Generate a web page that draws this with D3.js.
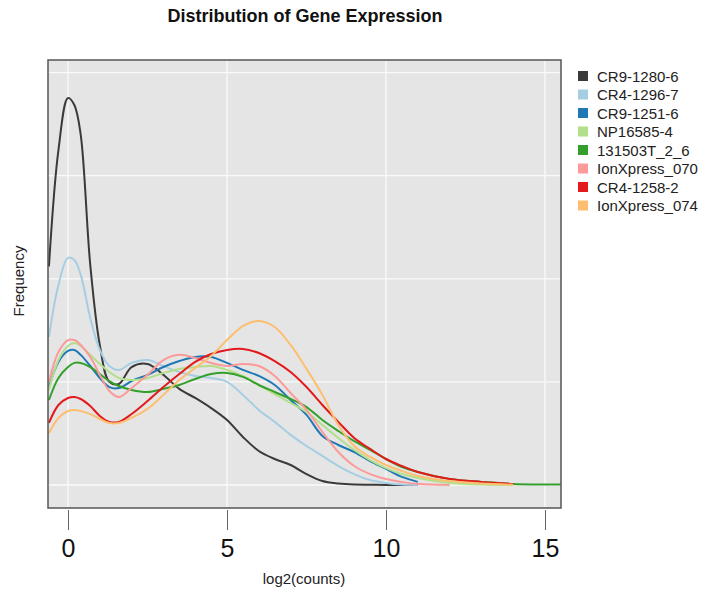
<!DOCTYPE html>
<html>
<head>
<meta charset="utf-8">
<script src="https://cdn.jsdelivr.net/npm/d3@7/dist/d3.min.js"></script>
<style>
  body { margin: 0; background: #fff; }
  text { font-family: "Liberation Sans", Arial, sans-serif; }
</style>
</head>
<body>
<svg width="701" height="594"></svg>
<script>
// log2(counts) sample points shared by all series
var xs = [-0.6, -0.3, 0, 0.2, 0.4, 0.7, 1, 1.3, 1.6, 2, 2.5, 3, 3.5, 4, 4.5, 5, 5.5, 6,
          6.5, 7, 7.5, 8, 8.5, 9, 9.5, 10, 10.5, 11, 12, 13, 14, 15.5];

// density values (series end where the curve ends)
var cr9_1280_6 = [0.1060, 0.1625, 0.1877, 0.1843, 0.1698, 0.1067, 0.0679, 0.0500, 0.0490, 0.0572,
  0.0587, 0.0534, 0.0466, 0.0422, 0.0373, 0.0315, 0.0233, 0.0165, 0.0126, 0.0097, 0.0053, 0.0019,
  0.0007, 0.0002, 0.0001, 0, 0, 0];
var cr4_1296_7 = [0.0718, 0.0970, 0.1101, 0.1091, 0.1019, 0.0810, 0.0655, 0.0577, 0.0558, 0.0592,
  0.0606, 0.0577, 0.0548, 0.0529, 0.0519, 0.0500, 0.0437, 0.0364, 0.0306, 0.0243, 0.0189, 0.0141,
  0.0092, 0.0053, 0.0024, 0.0010, 0.0002, 0];
var cr9_1251_6 = [0.0475, 0.0597, 0.0650, 0.0655, 0.0631, 0.0577, 0.0519, 0.0475, 0.0470, 0.0504,
  0.0534, 0.0572, 0.0601, 0.0621, 0.0621, 0.0592, 0.0558, 0.0529, 0.0485, 0.0412, 0.0340, 0.0238,
  0.0194, 0.0160, 0.0116, 0.0078, 0.0039, 0.0015];
var np16585_4 = [0.0461, 0.0606, 0.0674, 0.0689, 0.0674, 0.0631, 0.0587, 0.0548, 0.0519, 0.0509,
  0.0519, 0.0543, 0.0563, 0.0572, 0.0577, 0.0558, 0.0529, 0.0485, 0.0441, 0.0398, 0.0354, 0.0291,
  0.0228, 0.0170, 0.0121, 0.0082, 0.0053, 0.0034, 0.0010, 0.0002, 0];
var s131503T_2_6 = [0.0412, 0.0519, 0.0572, 0.0592, 0.0592, 0.0572, 0.0538, 0.0504, 0.0480, 0.0461,
  0.0451, 0.0466, 0.0485, 0.0514, 0.0538, 0.0543, 0.0524, 0.0485, 0.0451, 0.0417, 0.0378, 0.0315,
  0.0262, 0.0213, 0.0170, 0.0126, 0.0087, 0.0063, 0.0029, 0.0015, 0.0005, 0.0002];
var ionxpress_070 = [0.0500, 0.0645, 0.0703, 0.0703, 0.0679, 0.0621, 0.0534, 0.0456, 0.0427, 0.0470,
  0.0534, 0.0606, 0.0631, 0.0616, 0.0592, 0.0577, 0.0587, 0.0577, 0.0529, 0.0446, 0.0364, 0.0257,
  0.0160, 0.0092, 0.0053, 0.0029, 0.0015, 0.0005, 0];
var cr4_1258_2 = [0.0301, 0.0388, 0.0422, 0.0427, 0.0417, 0.0383, 0.0335, 0.0306, 0.0306, 0.0344,
  0.0407, 0.0475, 0.0538, 0.0597, 0.0635, 0.0655, 0.0660, 0.0640, 0.0601, 0.0548, 0.0475, 0.0388,
  0.0306, 0.0228, 0.0175, 0.0126, 0.0092, 0.0063, 0.0029, 0.0015, 0.0005];
var ionxpress_074 = [0.0252, 0.0325, 0.0359, 0.0364, 0.0359, 0.0344, 0.0320, 0.0301, 0.0301, 0.0325,
  0.0369, 0.0437, 0.0509, 0.0567, 0.0626, 0.0703, 0.0771, 0.0795, 0.0766, 0.0679, 0.0563, 0.0437,
  0.0291, 0.0189, 0.0136, 0.0097, 0.0068, 0.0044, 0.0019, 0.0007, 0.0001];

var sampleNames = ["CR9-1280-6", "CR4-1296-7", "CR9-1251-6", "NP16585-4", "131503T_2_6",
                   "IonXpress_070", "CR4-1258-2", "IonXpress_074"];
var sampleValues = [cr9_1280_6, cr4_1296_7, cr9_1251_6, np16585_4, s131503T_2_6,
                    ionxpress_070, cr4_1258_2, ionxpress_074];
var sampleColors = ["#3a3a3a", "#a6cee3", "#1f78b4", "#b2df8a", "#33a02c", "#fb9a99", "#e31a1c", "#fdbf6f"];

var xTicks = [0, 5, 10, 15];
var yGrid = [0, 0.05, 0.10, 0.15, 0.20];

var panel = { left: 48, top: 60, right: 561, bottom: 508 };

var svg = d3.select("svg");

var x = d3.scaleLinear().domain([-0.629, 15.503]).range([panel.left, panel.right]);
var y = d3.scaleLinear().domain([-0.01116, 0.2061]).range([panel.bottom, panel.top]);

// title
svg.append("text").attr("x", 305).attr("y", 22).attr("text-anchor", "middle")
  .style("font-size", "18px").style("font-weight", "bold").attr("fill", "#111")
  .text("Distribution of Gene Expression");

// panel background
svg.append("rect").attr("x", panel.left).attr("y", panel.top)
  .attr("width", panel.right - panel.left).attr("height", panel.bottom - panel.top)
  .attr("fill", "#e5e5e5");

svg.append("clipPath").attr("id", "clip").append("rect")
  .attr("x", panel.left).attr("y", panel.top)
  .attr("width", panel.right - panel.left).attr("height", panel.bottom - panel.top);

var plot = svg.append("g").attr("clip-path", "url(#clip)");

// grid
plot.selectAll(".vgrid").data(xTicks).enter().append("line")
  .attr("x1", function (d) { return x(d); }).attr("x2", function (d) { return x(d); })
  .attr("y1", panel.top).attr("y2", panel.bottom)
  .attr("stroke", "#fafafa").attr("stroke-width", 1.3);
plot.selectAll(".hgrid").data(yGrid).enter().append("line")
  .attr("y1", function (d) { return y(d); }).attr("y2", function (d) { return y(d); })
  .attr("x1", panel.left).attr("x2", panel.right)
  .attr("stroke", "#fafafa").attr("stroke-width", 1.3);

// density curves
var line = d3.line()
  .x(function (d, i) { return x(xs[i]); })
  .y(function (d) { return y(d); })
  .curve(d3.curveCatmullRom.alpha(0.5));

sampleValues.forEach(function (vals, k) {
  plot.append("path").datum(vals)
    .attr("fill", "none")
    .attr("stroke", sampleColors[k])
    .attr("stroke-width", 2)
    .attr("d", line);
});

// panel border
svg.append("rect").attr("x", panel.left).attr("y", panel.top)
  .attr("width", panel.right - panel.left).attr("height", panel.bottom - panel.top)
  .attr("fill", "none").attr("stroke", "#555").attr("stroke-width", 1.5);

// x axis
var xAxis = svg.append("g").attr("transform", "translate(0," + (panel.bottom + 2) + ")")
  .call(d3.axisBottom(x).tickValues(xTicks).tickSize(20).tickPadding(9).tickFormat(d3.format("d")));
xAxis.select(".domain").remove();
xAxis.selectAll(".tick line").attr("stroke", "#666");
xAxis.selectAll(".tick text").style("font-size", "25px").attr("fill", "#111")
  .style("font-family", "'Liberation Sans', Arial, sans-serif");

svg.append("text").attr("x", 304).attr("y", 584).attr("text-anchor", "middle")
  .style("font-size", "15px").attr("fill", "#222").text("log2(counts)");

svg.append("text").attr("transform", "translate(24,281) rotate(-90)").attr("text-anchor", "middle")
  .style("font-size", "15px").attr("fill", "#222").text("Frequency");

// legend
var legend = svg.selectAll(".legend").data(sampleNames).enter().append("g")
  .attr("class", "legend")
  .attr("transform", function (d, i) { return "translate(578," + (76 + i * 18.5) + ")"; });
legend.append("rect").attr("x", 0).attr("y", -5).attr("width", 10).attr("height", 10)
  .attr("fill", function (d, i) { return sampleColors[i]; });
legend.append("text").attr("x", 19).attr("y", 5.5)
  .style("font-size", "15px").attr("fill", "#222")
  .text(function (d) { return d; });
</script>
</body>
</html>
